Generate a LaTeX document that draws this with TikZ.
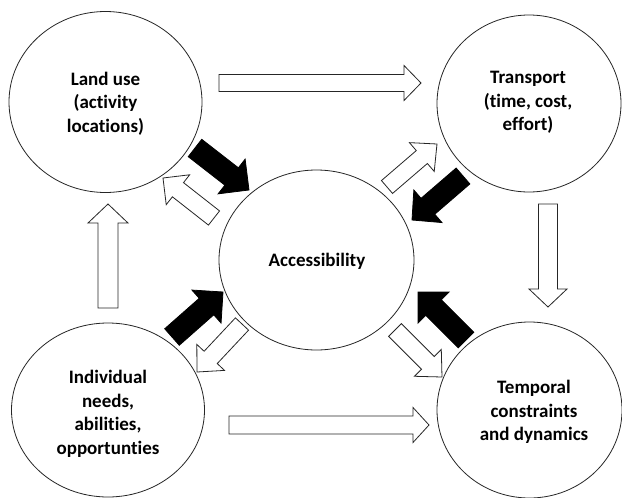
\documentclass[tikz,border=0pt]{standalone}
\usepackage{fontspec}
\setmainfont{Carlito}[Ligatures={NoCommon}]
\usetikzlibrary{calc,shapes.geometric}
\newcommand{\blockarr}[6]{%
  \coordinate (#2-#3) at ($(#3)!#6!(#2)$);
  \path[#1] ($(#2)!#4!90:(#3)$) -- ($(#2-#3)!#4!90:(#3)$) -- ($(#2-#3)!#5!90:(#3)$) -- (#3)
    -- ($(#2-#3)!#5!-90:(#3)$) -- ($(#2-#3)!#4!-90:(#3)$) -- ($(#2)!#4!-90:(#3)$) -- cycle;
}
\tikzset{
  bubble/.style={ellipse, draw=black!85, line width=0.8pt, inner sep=0pt},
  bubtxt/.style={align=center, font=\fontsize{19}{23.5}\selectfont\bfseries, text=black, inner sep=0pt},
  hollow/.style={draw=black!85, fill=white, line width=0.8pt, line join=miter},
  solidarr/.style={draw=black, fill=black, line width=0.8pt, line join=miter}
}
\begin{document}
\begin{tikzpicture}[x=1pt,y=-1pt]
\useasboundingbox (0,0) rectangle (622,498);
\fill[white] (0,0) rectangle (622,498);
% circles
\node[bubble, minimum width=193pt, minimum height=181pt] (land) at (105.5,102) {};
\node[bubble, minimum width=184pt, minimum height=177pt] (trans) at (529,103.5) {};
\node[bubble, minimum width=195pt, minimum height=180pt] (acc) at (316.5,260) {};
\node[bubble, minimum width=193pt, minimum height=174pt] (ind) at (108,410) {};
\node[bubble, minimum width=185pt, minimum height=176pt] (temp) at (529.5,410) {};
% texts
\node[bubtxt] (landT) at (105.5,103.5) {Land use\\(activity\\locations)};
\node[bubtxt] (transT) at (528,102.5) {Transport\\(time, cost,\\effort)};
\node[bubtxt] (accT) at (317,261) {Accessibility};
\node[bubtxt] (indT) at (108,414) {Individual\\needs,\\abilities,\\opportunties};
\node[bubtxt] (tempT) at (534,412) {Temporal\\constraints\\and dynamics};
% arrow end points
\coordinate (h1a) at (219,83);  \coordinate (h1b) at (421,83);
\coordinate (h2a) at (229,425); \coordinate (h2b) at (429,425);
\coordinate (v1a) at (108,308); \coordinate (v1b) at (108,204);
\coordinate (v2a) at (548,204); \coordinate (v2b) at (548,307);
\coordinate (b1a) at (195,148); \coordinate (b1b) at (249,190);
\coordinate (b2a) at (463,176); \coordinate (b2b) at (412,220);
\coordinate (b3a) at (172,337); \coordinate (b3b) at (223,292);
\coordinate (b4a) at (466,340); \coordinate (b4b) at (418,292);
\coordinate (d1a) at (214,218); \coordinate (d1b) at (163,178);
\coordinate (d2a) at (387,187); \coordinate (d2b) at (437,144);
\coordinate (d3a) at (242,324); \coordinate (d3b) at (197,372);
\coordinate (d4a) at (395,330); \coordinate (d4b) at (442,377);
% straight hollow arrows
\blockarr{hollow}{h1a}{h1b}{8.5pt}{17.5pt}{17pt}
\blockarr{hollow}{h2a}{h2b}{9pt}{17.5pt}{16pt}
\blockarr{hollow}{v1a}{v1b}{10pt}{20pt}{19pt}
\blockarr{hollow}{v2a}{v2b}{9.5pt}{19pt}{18pt}
% black arrows into accessibility
\blockarr{solidarr}{b1a}{b1b}{11pt}{22pt}{22pt}
\blockarr{solidarr}{b2a}{b2b}{10.5pt}{21.5pt}{21pt}
\blockarr{solidarr}{b3a}{b3b}{11pt}{22pt}{22pt}
\blockarr{solidarr}{b4a}{b4b}{11pt}{22pt}{22pt}
% hollow arrows out of accessibility
\blockarr{hollow}{d1a}{d1b}{9pt}{19pt}{19pt}
\blockarr{hollow}{d2a}{d2b}{8.5pt}{19pt}{20pt}
\blockarr{hollow}{d3a}{d3b}{9pt}{19pt}{20pt}
\blockarr{hollow}{d4a}{d4b}{9pt}{19pt}{20pt}
\end{tikzpicture}
\end{document}
